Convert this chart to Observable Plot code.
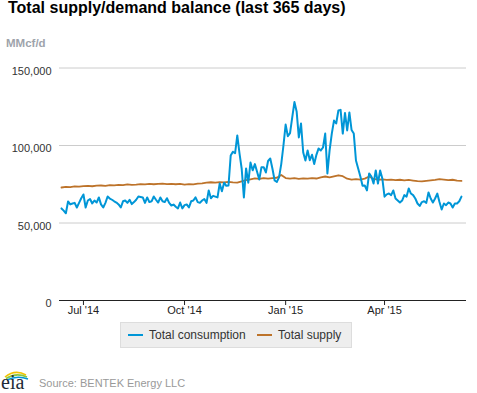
<!DOCTYPE html>
<html>
<head>
<meta charset="utf-8">
<script src="https://cdn.jsdelivr.net/npm/d3@7"></script>
<script src="https://cdn.jsdelivr.net/npm/@observablehq/plot@0.6"></script>
<style>
  html, body { margin: 0; padding: 0; background: #fff; }
  #wrap { position: relative; width: 477px; height: 393px; overflow: hidden; font-family: "Liberation Sans", Arial, sans-serif; }
  #title { position: absolute; left: 8px; top: -1px; font-size: 16px; font-weight: bold; color: #000; white-space: nowrap; }
  #unit { position: absolute; left: 6px; top: 37px; font-size: 11.5px; font-weight: bold; color: #9ea3ab; }
  #chart { position: absolute; left: 0; top: 50px; }
  #legend { position: absolute; left: 120px; top: 322px; width: 230px; height: 24px; background: #eeeeee; border: 1px solid #dddddd; font-size: 12px; color: #333; }
  .item { position: absolute; top: 5px; white-space: nowrap; }
  .sw { display: inline-block; width: 15px; height: 2px; vertical-align: middle; margin-right: 6px; position: relative; top: -1px; }
  #source { position: absolute; left: 39px; top: 377px; font-size: 11px; color: #999; white-space: nowrap; }
  #logo { position: absolute; left: 0; top: 367px; overflow: visible; }
</style>
</head>
<body>
<div id="wrap">
  <div id="title">Total supply/demand balance (last 365 days)</div>
  <div id="unit">MMcf/d</div>
  <div id="chart"></div>
  <div id="legend">
    <div class="item" style="left:7px"><span class="sw" style="background:#0096d7"></span>Total consumption</div>
    <div class="item" style="left:136px"><span class="sw" style="background:#bd732a"></span>Total supply</div>
  </div>
  <svg id="logo" width="34" height="26" viewBox="0 0 34 26">
    <path d="M5,10 Q15,2 26,8" fill="none" stroke="#f2c300" stroke-width="1.6"/>
    <path d="M6,11.5 Q16,5 27,10" fill="none" stroke="#8cc63f" stroke-width="1.6"/>
    <path d="M7,13 Q17,8 28,12" fill="none" stroke="#0096d7" stroke-width="1.4"/>
    <text x="1" y="21.5" font-family="Liberation Serif, DejaVu Serif, serif" font-size="20" fill="#1e2a36">eia</text>
  </svg>
  <div id="source">Source: BENTEK Energy LLC</div>
</div>
<script>
// Daily series sampled every 2 days (consumption) and every 4 days (supply), starting 2014-06-11
const seriesStart = "2014-06-11";
const consumptionStepDays = 2;
const supplyStepDays = 4;

const consumptionValues = [
  59400, 58000, 56300, 63900, 62000, 62600, 63000, 60000, 63000, 66000,
  68400, 60000, 64500, 65500, 62600, 64500, 63200, 66500, 62000, 60000,
  63000, 67100, 65800, 65000, 64000, 63200, 62000, 60000, 64000, 64500,
  63000, 65000, 62200, 63500, 65000, 67100, 66800, 66500, 63000, 66500,
  63500, 64000, 67100, 65000, 63200, 66500, 64000, 63500, 66000, 63000,
  61300, 61900, 60500, 59400, 63200, 59400, 61500, 62000, 60000, 64000,
  64500, 66500, 63500, 63000, 64500, 65500, 63000, 71000, 66000, 67500,
  67000, 66500, 75500, 70500, 76000, 74000, 74200, 93500, 96000, 95000,
  106500, 95000, 85000, 66500, 85200, 76000, 89000, 84000, 88000, 83000,
  78000, 86000, 86000, 82600, 90000, 91600, 85000, 77400, 76500, 79400,
  88000, 100000, 113500, 106000, 108000, 118100, 128000, 122000, 105200, 114200,
  95500, 90300, 96800, 90500, 94000, 88000, 94000, 98100, 96800, 98700,
  107700, 82000, 96800, 107700, 116100, 114200, 122600, 123000, 107700, 121000,
  109700, 121300, 110000, 107700, 90300, 85200, 80000, 74000, 74200, 71000,
  82000, 80000, 75500, 83900, 75500, 83900, 78700, 67000, 68500, 69000,
  68000, 71000, 65800, 64500, 63200, 64500, 68000, 67000, 72300, 69000,
  68000, 65800, 62600, 61000, 63500, 64000, 63000, 69700, 65800, 63200,
  65800, 69000, 63500, 58700, 62600, 61500, 63200, 62600, 60000, 62600,
  62600, 64000, 67000
];

const supplyValues = [
  72900, 73300, 73200, 73600, 73500, 73800, 73900, 73700, 74100, 74200,
  74000, 74400, 74300, 74600, 74500, 74900, 74600, 74800, 75100, 74900,
  75300, 75000, 75200, 75400, 75100, 75300, 75000, 75200, 74800, 75100,
  74900, 75400, 75600, 76000, 76300, 76000, 76400, 76200, 76500, 76200,
  76000, 76800, 77600, 78200, 78800, 78400, 79000, 78600, 78900, 79200,
  81000, 79000, 78600, 78900, 78500, 78800, 78600, 79000, 78700, 79500,
  80000, 79400, 80100, 80800, 80200, 78600, 78000, 78300, 78000, 78600,
  80000, 78400, 78000, 78200, 77800, 78000, 77600, 77900, 77500, 77800,
  77400, 77000, 76800, 77200, 77500, 77800, 78300, 78000, 77600, 77900,
  77400, 77200
];

const yTicks = [0, 50000, 100000, 150000];
const xTickDates = ["2014-07-01", "2014-10-01", "2015-01-01", "2015-04-01"];
const xDomain = ["2014-06-09T05:00Z", "2015-06-14T14:00Z"];

const DAY = 864e5;
const t0 = new Date(seriesStart + "T00:00Z").getTime();
const consumption = consumptionValues.map((v, i) => ({date: new Date(t0 + i * consumptionStepDays * DAY), value: v}));
const supply = supplyValues.map((v, i) => ({date: new Date(t0 + i * supplyStepDays * DAY), value: v}));

const chart = Plot.plot({
  width: 477,
  height: 275,
  marginTop: 17.5,
  marginBottom: 25,
  marginLeft: 59,
  marginRight: 11,
  style: {fontFamily: "Liberation Sans, Arial, sans-serif", fontSize: "11px", color: "#333", background: "transparent", overflow: "visible"},
  x: {type: "utc", domain: xDomain.map(d => new Date(d)), label: null},
  y: {domain: [0, 150000], label: null},
  marks: [
    Plot.ruleY(yTicks.filter(d => d > 0), {stroke: "#cccccc", strokeWidth: 1}),
    Plot.lineY(supply, {x: "date", y: "value", stroke: "#bd732a", strokeWidth: 1.8}),
    Plot.lineY(consumption, {x: "date", y: "value", stroke: "#0096d7", strokeWidth: 2}),
    Plot.ruleY([0], {stroke: "#222", strokeWidth: 1.2}),
    Plot.axisY({ticks: yTicks, tickFormat: d3.format(","), tickSize: 0, tickPadding: 8, dy: 3, label: null, fill: "#333"}),
    Plot.axisX({ticks: xTickDates.map(d => new Date(d + "T00:00Z")), tickFormat: d3.utcFormat("%b '%y"), tickSize: 5, tickPadding: 1, label: null, stroke: "#222", fill: "#222"})
  ]
});
document.getElementById("chart").appendChild(chart);
</script>
</body>
</html>
